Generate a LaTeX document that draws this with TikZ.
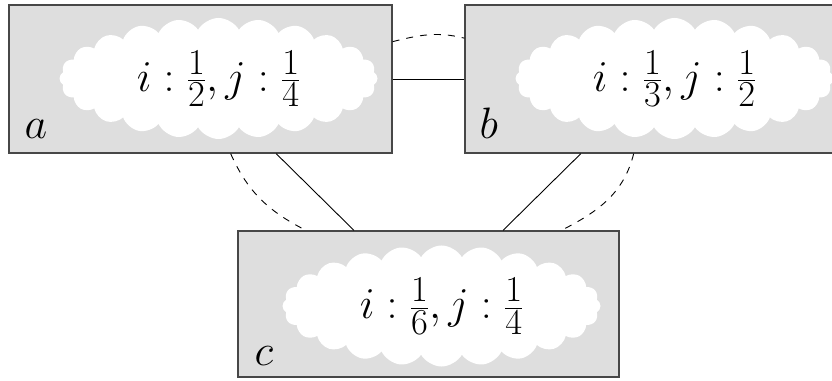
\RequirePackage{fix-cm}
\documentclass[tikz,border=0pt]{standalone}
\usetikzlibrary{shapes.symbols}
\DeclareMathSizes{44}{44}{36.5}{30.5}
\begin{document}
\begin{tikzpicture}[x=1pt,y=1pt,
  box/.style={draw=black!72,line width=1.3pt,fill=black!13,rectangle,inner sep=0pt,minimum width=383pt,minimum height=148pt},
  puff/.style={cloud,cloud puffs=24,cloud puff arc=120,cloud ignores aspect,fill=white,draw=none,inner sep=0pt,minimum width=318pt,minimum height=121pt,font=\fontsize{44}{53}\selectfont},
  lbl/.style={anchor=base west,inner sep=0pt,font=\fontsize{44}{53}\selectfont},
  link/.style={draw=black,line width=0.9pt},
  dlink/.style={draw=black,line width=0.9pt,dash pattern=on 7pt off 7pt}]
\useasboundingbox (0,0) rectangle (832,380);
\clip (0,0) rectangle (832,380);
% boxes
\node[box] (a) at (200.5,301) {};
\node[box] (b) at (656.5,301) {};
\node[box,minimum width=381pt,minimum height=146pt] (c) at (428.5,76) {};
% clouds with values
\node[puff] (ca) at (218.5,301.5) {$i:\frac{1}{2},j:\frac{1}{4}$};
\node[puff] (cb) at (674.5,301.5) {$i:\frac{1}{3},j:\frac{1}{2}$};
\node[puff] (cc) at (441.5,74) {$i:\frac{1}{6},j:\frac{1}{4}$};
% labels
\node[lbl] (la) at ([shift={(16,15)}]a.south west) {$a$};
\node[lbl] (lb) at ([shift={(15,15)}]b.south west) {$b$};
\node[lbl] (lc) at ([shift={(17,12)}]c.south west) {$c$};
% connectors
\draw[link] (a) -- (b);
\draw[link] (a) -- (c);
\draw[link] (b) -- (c);
\draw[dlink] (a.11.5) to[out=14,in=166] (b.168.5);
\draw[dlink] (a.-68.3) to[out=-66,in=153] (c.149);
\draw[dlink] (b.-107.6) to[out=-104,in=27] (c.29.4);
\end{tikzpicture}
\end{document}
